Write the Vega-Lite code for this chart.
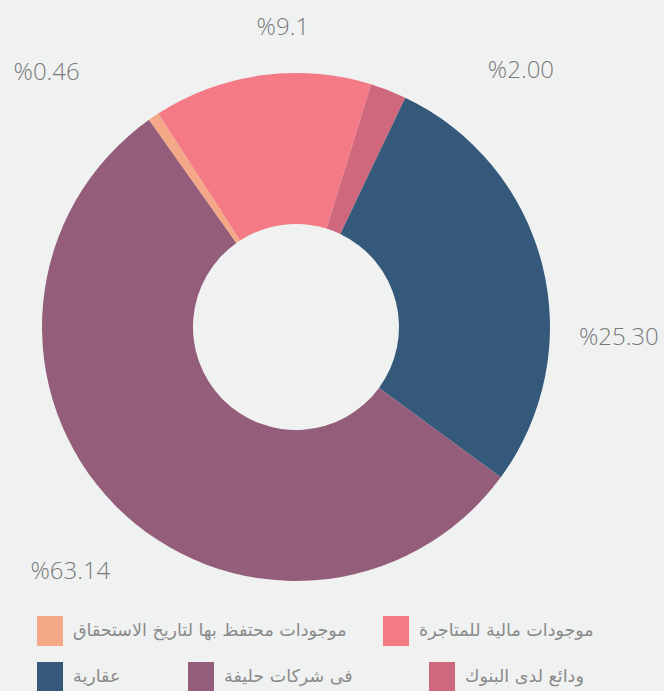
{
  "$schema": "https://vega.github.io/schema/vega-lite/v6.json",
  "width": 592,
  "height": 654,
  "autosize": {"type": "none"},
  "padding": {"left": 0, "top": 0, "right": 72, "bottom": 37},
  "background": "#f0f2f2",
  "config": {
    "view": {"stroke": null},
    "legend": {
      "title": null,
      "symbolType": "M-0.867,-1H0.867V1H-0.867Z",
      "symbolSize": 900,
      "symbolStrokeWidth": 0,
      "symbolOpacity": 1,
      "labelFont": "DejaVu Sans",
      "labelFontSize": 17.5,
      "labelColor": "#8a8a8a",
      "labelOffset": 8,
      "labelLimit": 400,
      "padding": 0,
      "orient": "none"
    },
    "text": {"font": "Open Sans", "fontSize": 24, "fontWeight": 300, "fill": "#7a7a7a", "align": "center", "baseline": "middle"}
  },
  "data": {
    "values": [
      {"category": "ودائع لدى البنوك", "percent": 2.00, "label": "%2.00", "share": 2.3},
      {"category": "عقارية", "percent": 25.30, "label": "%25.30", "share": 28.0},
      {"category": "فى شركات حليفة", "percent": 63.14, "label": "%63.14", "share": 55.1},
      {"category": "موجودات محتفظ بها لتاريخ الاستحقاق", "percent": 0.46, "label": "%0.46", "share": 0.7},
      {"category": "موجودات مالية للمتاجرة", "percent": 9.1, "label": "%9.1", "share": 13.9}
    ]
  },
  "transform": [
    {"window": [{"op": "sum", "field": "share", "as": "cum"}], "frame": [null, 0]},
    {"calculate": "datum.cum - datum.share", "as": "start"},
    {"calculate": "datum.cum - datum.share / 2", "as": "mid"}
  ],
  "layer": [
    {
      "transform": [{"filter": {"field": "category", "equal": "ودائع لدى البنوك"}}],
      "layer": [
        {
          "mark": {"type": "arc", "outerRadius": 254, "innerRadius": 103},
          "encoding": {
            "theta": {"field": "start", "type": "quantitative", "stack": null, "scale": {"domain": [0, 100], "range": [0.3002, 6.5834]}},
            "theta2": {"field": "cum"},
            "color": {"field": "category", "type": "nominal", "scale": {"range": ["#d0687d"]}, "legend": {"legendX": 427, "legendY": 662}}
          }
        },
        {
          "mark": {"type": "text", "radius": 341, "thetaOffset": 0.348},
          "encoding": {
            "theta": {"field": "mid", "type": "quantitative", "stack": null, "scale": {"domain": [0, 100], "range": [0.3002, 6.5834]}},
            "text": {"field": "label"}
          }
        }
      ]
    },
    {
      "transform": [{"filter": {"field": "category", "equal": "عقارية"}}],
      "layer": [
        {
          "mark": {"type": "arc", "outerRadius": 254, "innerRadius": 103},
          "encoding": {
            "theta": {"field": "start", "type": "quantitative", "stack": null, "scale": {"domain": [0, 100], "range": [0.3002, 6.5834]}},
            "theta2": {"field": "cum"},
            "color": {"field": "category", "type": "nominal", "scale": {"range": ["#34597a"]}, "legend": {"legendX": 35, "legendY": 662}}
          }
        },
        {
          "mark": {"type": "text", "radius": 323, "thetaOffset": 0.28},
          "encoding": {
            "theta": {"field": "mid", "type": "quantitative", "stack": null, "scale": {"domain": [0, 100], "range": [0.3002, 6.5834]}},
            "text": {"field": "label"}
          }
        }
      ]
    },
    {
      "transform": [{"filter": {"field": "category", "equal": "فى شركات حليفة"}}],
      "layer": [
        {
          "mark": {"type": "arc", "outerRadius": 254, "innerRadius": 103},
          "encoding": {
            "theta": {"field": "start", "type": "quantitative", "stack": null, "scale": {"domain": [0, 100], "range": [0.3002, 6.5834]}},
            "theta2": {"field": "cum"},
            "color": {"field": "category", "type": "nominal", "scale": {"range": ["#945e7a"]}, "legend": {"legendX": 186, "legendY": 662}}
          }
        },
        {
          "mark": {"type": "text", "radius": 333, "thetaOffset": -0.049},
          "encoding": {
            "theta": {"field": "mid", "type": "quantitative", "stack": null, "scale": {"domain": [0, 100], "range": [0.3002, 6.5834]}},
            "text": {"field": "label"}
          }
        }
      ]
    },
    {
      "transform": [{"filter": {"field": "category", "equal": "موجودات محتفظ بها لتاريخ الاستحقاق"}}],
      "layer": [
        {
          "mark": {"type": "arc", "outerRadius": 254, "innerRadius": 103},
          "encoding": {
            "theta": {"field": "start", "type": "quantitative", "stack": null, "scale": {"domain": [0, 100], "range": [0.3002, 6.5834]}},
            "theta2": {"field": "cum"},
            "color": {"field": "category", "type": "nominal", "scale": {"range": ["#f5a888"]}, "legend": {"legendX": 35, "legendY": 616}}
          }
        },
        {
          "mark": {"type": "text", "radius": 356, "thetaOffset": -0.181},
          "encoding": {
            "theta": {"field": "mid", "type": "quantitative", "stack": null, "scale": {"domain": [0, 100], "range": [0.3002, 6.5834]}},
            "text": {"field": "label"}
          }
        }
      ]
    },
    {
      "transform": [{"filter": {"field": "category", "equal": "موجودات مالية للمتاجرة"}}],
      "layer": [
        {
          "mark": {"type": "arc", "outerRadius": 254, "innerRadius": 103},
          "encoding": {
            "theta": {"field": "start", "type": "quantitative", "stack": null, "scale": {"domain": [0, 100], "range": [0.3002, 6.5834]}},
            "theta2": {"field": "cum"},
            "color": {"field": "category", "type": "nominal", "scale": {"range": ["#f47a85"]}, "legend": {"legendX": 381, "legendY": 616}}
          }
        },
        {
          "mark": {"type": "text", "radius": 299, "thetaOffset": 0.0925},
          "encoding": {
            "theta": {"field": "mid", "type": "quantitative", "stack": null, "scale": {"domain": [0, 100], "range": [0.3002, 6.5834]}},
            "text": {"field": "label"}
          }
        }
      ]
    }
  ],
  "resolve": {"scale": {"color": "independent"}, "legend": {"color": "independent"}}
}
